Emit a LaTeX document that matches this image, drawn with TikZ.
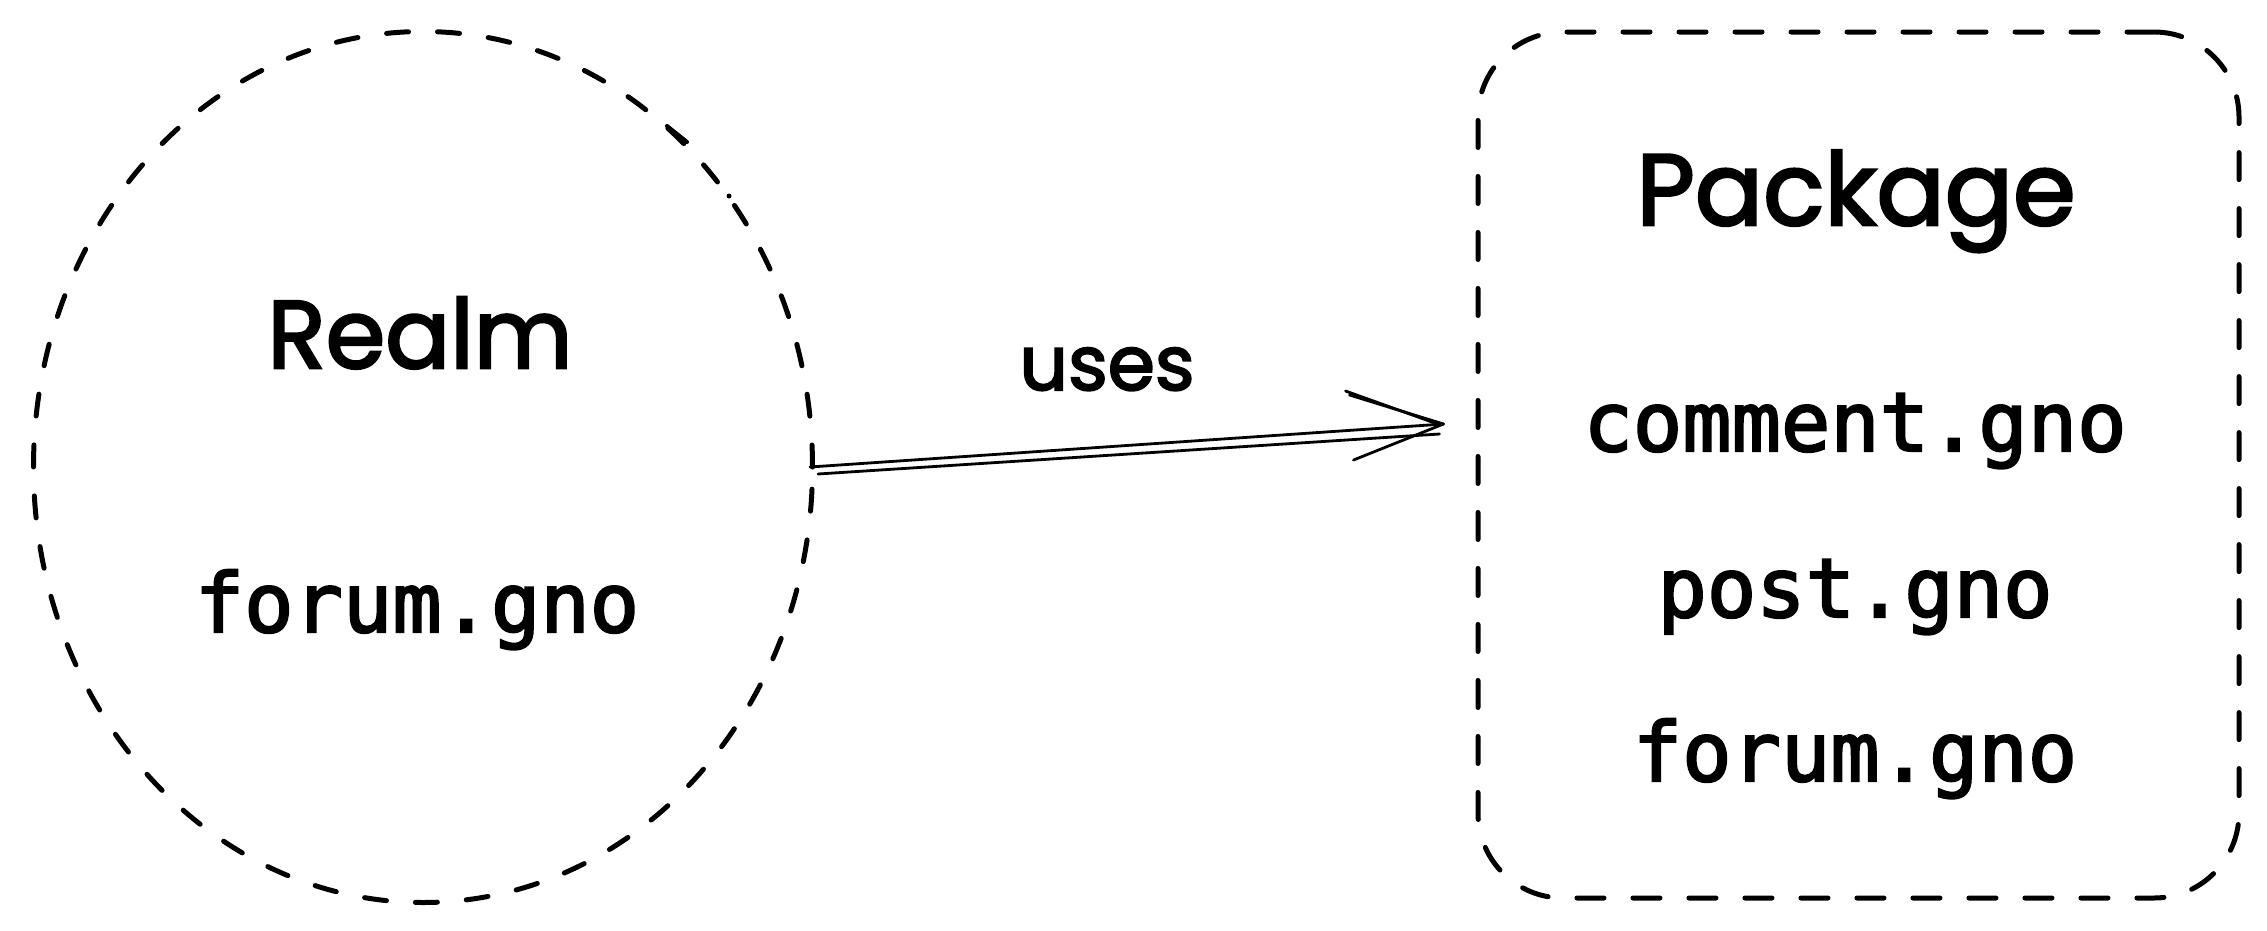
\documentclass[tikz,border=0pt]{standalone}
\usepackage{fontspec}
\setmainfont{Poppins}
\newfontfamily\handfont[FakeBold=2.6]{Poppins}
\newfontfamily\codefont[FakeBold=2.6]{DejaVu Sans Mono}
\usetikzlibrary{shapes.geometric,calc}
\begin{document}
\begin{tikzpicture}[x=1pt,y=-1pt,
  hand/.style={font=\handfont\fontsize{96}{110}\selectfont, inner sep=0pt, anchor=base},
  code/.style={font=\codefont\fontsize{82}{96}\selectfont, inner sep=0pt, anchor=base},
  outline/.style={draw=black, line width=5pt, dash pattern=on 22pt off 29pt, line cap=round},
  boxline/.style={draw=black, line width=5pt, dash pattern=on 27pt off 29pt, line cap=round},
  link/.style={draw=black, line width=2.8pt, line cap=round, line join=round}]
\useasboundingbox[fill=white] (0,0) rectangle (2267,930);
% shapes
\node[ellipse, outline, minimum width=779pt, minimum height=871pt, inner sep=0pt] (realm) at (423,467) {};
\node[rectangle, boxline, rounded corners=85pt, minimum width=761pt, minimum height=866pt, inner sep=0pt] (pkg) at (1858.5,465) {};
% sketch leftovers on the ellipse outline
\coordinate (s1) at ($(realm.center)+(244,-341)$);
\coordinate (s2) at ($(realm.center)+(264,-325)$);
\coordinate (s3) at ($(realm.center)+(306,-271)$);
\draw[draw=black, line width=4pt, line cap=round] (s1) -- (s2);
\fill (s3) circle (2.5pt);
% texts
\node[hand] (realmt) at (420,368) {Realm};
\node[code] (realmf) at (417,632) {forum.gno};
\node[hand, font=\handfont\fontsize{101}{115}\selectfont] (pkgt) at (1856,225) {Package};
\node[code] (c1) at (1855,451) {comment.gno};
\node[code] (c2) at (1855,617) {post.gno};
\node[code] (c3) at (1855,781) {forum.gno};
% connector
\coordinate (tip) at ($(pkg.west)+(-32,-41)$);
\draw[link] ($(realm.east)+(-5,0)$) -- (tip);
\draw[link] ($(realm.east)+(3,7)$) -- ($(tip)+(-4,10)$);
\draw[link] ($(tip)+(-94,-29)$) -- (tip) -- ($(tip)+(-90,36)$);
\draw[link] ($(tip)+(-98,-33)$) -- ($(tip)+(-6,0)$);
\node[hand, font=\handfont\fontsize{76}{90}\selectfont] (uses) at (1107,390) {uses};
\end{tikzpicture}
\end{document}
